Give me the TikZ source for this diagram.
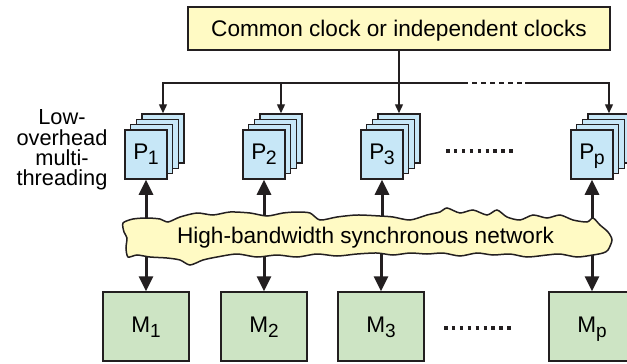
\documentclass[tikz,border=0pt]{standalone}
\usepackage{fontspec}
\setmainfont{Liberation Sans}
\usetikzlibrary{arrows.meta}
\definecolor{clk}{RGB}{255,250,196}
\definecolor{pblue}{RGB}{199,231,247}
\definecolor{mgreen}{RGB}{205,228,196}
\definecolor{ink}{RGB}{35,31,32}
\begin{document}
\begin{tikzpicture}[x=1pt,y=-1pt,
  font=\fontsize{22.6}{25}\selectfont,
  thinline/.style={draw=ink, line width=1.4pt},
  thinarrow/.style={thinline, -{Triangle[length=9pt,width=8pt]}},
  boldarrow/.style={draw=ink, line width=3pt, -{Triangle[length=15pt,width=14pt]}},
  card/.style={draw=ink, line width=1.5pt, fill=pblue, minimum width=42pt, minimum height=49pt, inner sep=0pt, text height=16pt, text depth=7pt},
  mbox/.style={draw=ink, line width=1.5pt, fill=mgreen, minimum width=86pt, minimum height=69pt, inner sep=0pt, text height=16pt, text depth=5pt},
  clockbox/.style={draw=ink, line width=1.5pt, fill=clk, minimum width=422pt, minimum height=43pt, inner sep=0pt, text height=16pt, text depth=1pt},
  dotrow/.style={draw=ink, line width=3.5pt, dash pattern=on 3.5pt off 4.4pt},
  cloud/.style={draw=ink, line width=1.5pt, fill=clk},
]
\useasboundingbox (0,0) rectangle (627,364);

% clock
\node[clockbox] (clk) at (399,28.5) {Common clock or independent clocks};

% processors (stacks of cards)
\foreach \n/\cx in {1/146, 2/264, 3/382, p/592}{
  \node[card] (P\n b3) at (\cx+17,138.5) {};
  \node[card] (P\n b2) at (\cx+11.33,143.83) {};
  \node[card] (P\n b1) at (\cx+5.67,149.17) {};
  \node[card] (P\n) at (\cx,154.5) {P\kern-0.6pt\raisebox{-5pt}{\fontsize{19.5}{19.5}\selectfont\n}};
}

% memories
\foreach \n/\cx in {1/146, 2/264, 3/381, p/592}{
  \node[mbox] (M\n) at (\cx,326.5) {M\raisebox{-5.5pt}{\fontsize{19}{19}\selectfont\n}};
}

% clock distribution
\coordinate (hl) at (163,83);
\coordinate (hr) at (609,83);
\coordinate (da) at (463,83);
\coordinate (db) at (525,83);
\draw[thinline] (clk.south) -- (clk.south |- hl);
\draw[thinarrow] (da) -- (hl) -- (P1b3.north);
\draw[thinline, dash pattern=on 5pt off 4pt] (da) -- (db);
\draw[thinarrow] (db) -- (hr) -- (Ppb3.north);
\draw[thinarrow] (P2b3.north |- hl) -- (P2b3.north);
\draw[thinarrow] (clk.south |- hl) -- (P3b3.north);

% network connections
\coordinate (netc) at (365,236);
\foreach \n in {1,2,3,p}{
  \draw[boldarrow] (P\n.south |- netc) -- (P\n.south);
  \draw[boldarrow] (M\n.north |- netc) -- (M\n.north);
}

% network cloud
\draw[cloud] plot[smooth cycle, tension=0.45] coordinates {
(123,223) (133,219) (147,218) (160,219) (168,222) (180,217) (197,213) (213,215) (230,212) (250,213) (267,216) (283,213) (297,212) (310,213) (320,220) (337,217) (357,215) (380,216) (393,217) (410,220) (427,215) (440,212) (447,208) (460,213) (473,210) (487,215) (497,210) (507,217) (520,220) (533,215) (547,218) (560,215) (573,220) (587,222) (593,218) (600,225) (608,232) (612,240) (608,250) (603,253) (593,255) (577,257) (560,254) (547,255) (527,257) (510,254) (493,255) (477,253) (460,256) (443,253) (427,254) (410,253) (393,255) (377,253) (357,254) (337,256) (317,254) (297,257) (277,255) (257,257) (237,254) (217,257) (203,260) (190,265) (180,260) (167,258) (150,257) (137,255) (128,257) (126,248) (127,238) (124,232)};
\node[anchor=base, inner sep=0pt] (net) at (365.5,243) {High-bandwidth synchronous network};

% ellipses
\draw[dotrow] (446,151) -- (513,151);
\draw[dotrow] (444,328) -- (511,328);

% side label
\node[align=center, inner sep=0pt, font=\fontsize{21.8}{20.2}\selectfont] (lbl) at (62,150) {Low-\\overhead\\multi-\\threading};
\end{tikzpicture}
\end{document}
